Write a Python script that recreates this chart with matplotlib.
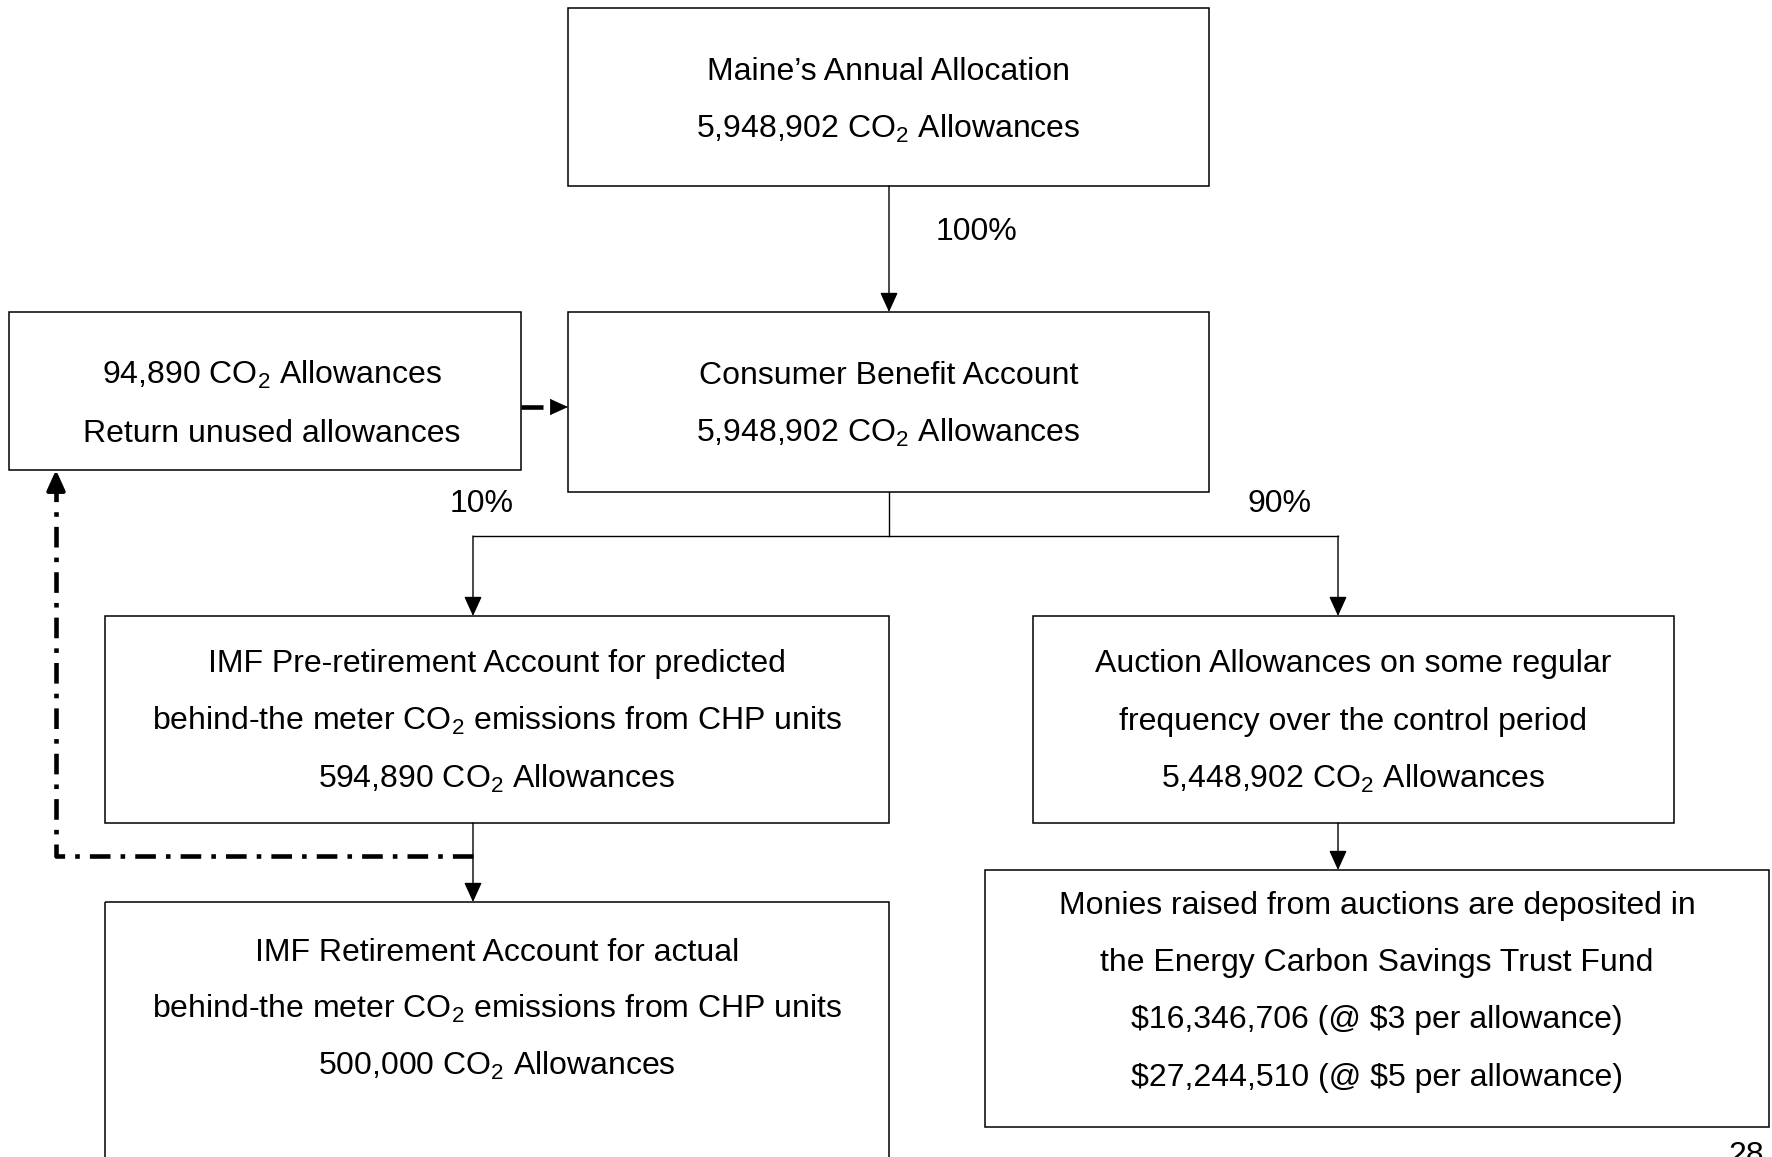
import matplotlib
matplotlib.use("Agg")
import matplotlib.pyplot as plt
from matplotlib.patches import Rectangle

plt.rcParams['font.family'] = ['Liberation Sans', 'DejaVu Sans']
plt.rcParams['mathtext.fontset'] = 'custom'
plt.rcParams['mathtext.rm'] = 'Liberation Sans'
plt.rcParams['mathtext.it'] = 'Liberation Sans'
plt.rcParams['mathtext.bf'] = 'Liberation Sans'

CO2 = r"CO$_\mathrm{2}$"

# ---- content ----
top_lines = ["Maine\u2019s Annual Allocation", "5,948,902 " + CO2 + " Allowances"]
consumer_lines = ["Consumer Benefit Account", "5,948,902 " + CO2 + " Allowances"]
return_lines = ["94,890 " + CO2 + " Allowances", "Return unused allowances"]
imf_pre_lines = ["IMF Pre-retirement Account for predicted",
                 "behind-the meter " + CO2 + " emissions from CHP units",
                 "594,890 " + CO2 + " Allowances"]
auction_lines = ["Auction Allowances on some regular",
                 "frequency over the control period",
                 "5,448,902 " + CO2 + " Allowances"]
monies_lines = ["Monies raised from auctions are deposited in",
                "the Energy Carbon Savings Trust Fund",
                "$16,346,706 (@ $3 per allowance)",
                "$27,244,510 (@ $5 per allowance)"]
imf_ret_lines = ["IMF Retirement Account for actual",
                 "behind-the meter " + CO2 + " emissions from CHP units",
                 "500,000 " + CO2 + " Allowances"]
pct_labels = ["100%", "10%", "90%"]
page_number = "28"

W, H = 1772, 1157
fig = plt.figure(figsize=(W / 100, H / 100), dpi=100)
ax = fig.add_axes([0, 0, 1, 1])
ax.set_xlim(0, W)
ax.set_ylim(H, 0)
ax.axis('off')

FS = 23
LW_BOX = 1.1


def esc(s):
    # escape dollar signs that are not math
    return s.replace("$16", r"\$16").replace("$27", r"\$27").replace("$3 ", r"\$3 ").replace("$5 ", r"\$5 ")


def box(x0, y0, x1, y1):
    ax.add_patch(Rectangle((x0, y0), x1 - x0, y1 - y0, fill=False,
                           edgecolor='black', lw=LW_BOX, zorder=2))


def lines_text(cx, centers, lines):
    for cy, s in zip(centers, lines):
        ax.text(cx, cy + 11, s, ha='center', va='baseline', fontsize=FS, color='black')


def arrow(x0, y0, x1, y1, lw=1.0, ms=22):
    ax.annotate('', xy=(x1, y1), xytext=(x0, y0),
                arrowprops=dict(arrowstyle='-|>,head_length=0.55,head_width=0.25',
                                mutation_scale=ms, lw=lw, color='black',
                                shrinkA=0, shrinkB=0), zorder=3)


# boxes
box(568, 8, 1209, 186)        # top
box(568, 312, 1209, 492)      # consumer
box(9, 312, 521, 470)         # return
box(105, 616, 889, 823)       # IMF pre
box(1033, 616, 1674, 823)     # auction
box(985, 870, 1769, 1127)     # monies
box(105, 902, 889, 1175)      # IMF retirement (runs off page)

# texts
lines_text(888.5, [69, 126.6], top_lines)
lines_text(888.5, [373, 430.6], consumer_lines)
lines_text(272, [373, 430.6], return_lines)
lines_text(497, [661, 719, 777], imf_pre_lines)
lines_text(1353, [661, 719, 777], auction_lines)
lines_text(1377, [903, 960, 1017, 1075], [esc(s) for s in monies_lines])
lines_text(497, [950, 1007, 1064], imf_ret_lines)

# percentages
ax.text(977, 229 + 11, pct_labels[0], ha='center', va='baseline', fontsize=FS)
ax.text(482, 501 + 11, pct_labels[1], ha='center', va='baseline', fontsize=FS)
ax.text(1280, 501 + 11, pct_labels[2], ha='center', va='baseline', fontsize=FS)

# connectors
arrow(889, 186, 889, 312)
ax.plot([889, 889], [492, 536], color='black', lw=1.0)
ax.plot([473, 1338], [536, 536], color='black', lw=1.0)
arrow(473, 536, 473, 616)
arrow(1338, 536, 1338, 616)
arrow(1338, 823, 1338, 870)
arrow(473, 823, 473, 902)

# dashed arrow from return box to consumer box
ax.plot([521, 543], [407, 407], color='black', lw=3.3, solid_capstyle='butt')
arrow(551, 407, 568, 407, lw=0.5, ms=22)

# dash-dot return line
ax.plot([473, 56, 56], [856, 856, 492], color='black', lw=3.3,
        linestyle=(0, (4.5, 2.2, 1, 2.2)), dash_capstyle='butt')
arrow(56, 492, 56, 470, lw=3.0, ms=22)

# page number
ax.text(1746, 1141, page_number, ha='center', va='top', fontsize=FS)

fig.savefig('out.png', dpi=100)
